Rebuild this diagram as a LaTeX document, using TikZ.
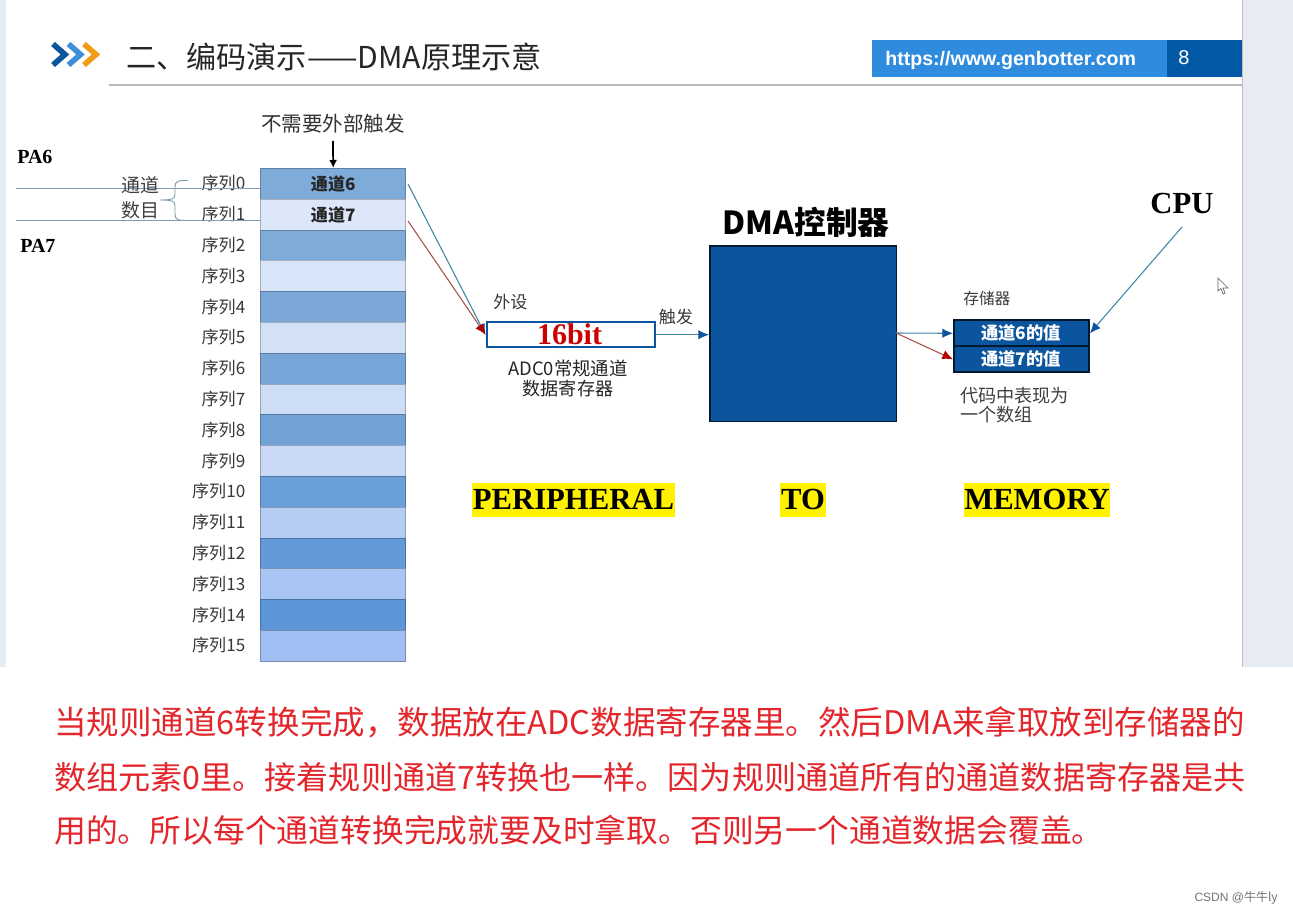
\documentclass[tikz,border=0pt]{standalone}
\usepackage{fontspec}
\setmainfont{Liberation Serif}
\newfontfamily\cjk{Noto Sans CJK SC}
\newfontfamily\lib{Liberation Sans}
\usetikzlibrary{arrows.meta}
\definecolor{navy}{HTML}{0B559F}
\definecolor{barl}{HTML}{2F8BDD}
\definecolor{bard}{HTML}{0459A6}
\definecolor{strip}{HTML}{E6ECF2}
\definecolor{redtxt}{HTML}{E3262B}
\definecolor{wire}{HTML}{7E9EAD}
\definecolor{linkb}{HTML}{3F86A8}
\definecolor{linkr}{HTML}{A8514C}
\tikzset{
  lab/.style={font=\cjk\fontsize{12.8}{14}\selectfont, text=black!78, inner sep=0pt},
  blab/.style={font=\cjk\bfseries\fontsize{12.8}{14}\selectfont, text=black!85, inner sep=0pt},
  word/.style={font=\bfseries\fontsize{23}{25}\selectfont, text=black, fill=yellow, inner sep=0.5pt, minimum height=25.5pt},
  note/.style={text=redtxt, inner sep=0pt, anchor=west},
  cell/.style={draw=#1!75!black, line width=0.8pt, minimum width=109pt, minimum height=23.1pt, inner sep=0pt, anchor=north west},
  blu/.style={line width=0.8pt, draw=linkb, -{Latex[length=8pt,width=7pt,color=navy]}},
  rd/.style={line width=0.8pt, draw=linkr, -{Latex[length=8pt,width=7pt,color=red!70!black]}},
  pin/.style={line width=0.8pt, draw=wire},
  mem/.style={draw=black!70!navy,line width=1.2pt,fill=navy,minimum width=101.5pt,minimum height=19.5pt,inner sep=0pt,anchor=north west}
}
\begin{document}
\begin{tikzpicture}[x=0.75pt,y=-0.75pt]
\useasboundingbox (0,0) rectangle (1293,916);
\fill[white] (0,0) rectangle (1293,916);
\fill[strip] (0,0) rectangle (6,667);
\fill[strip] (1242,0) rectangle (1293,667);
\draw[black!25,line width=0.7pt] (1242,0) -- (1242,667);
% header
\foreach \xx/\cc in {53/0B559F,68.5/3F8FD8,84/F39C1A}{
  \definecolor{cc}{HTML}{\cc}
  \draw[cc,line width=4.2pt] (\xx,44) -- (\xx+12,54.5) -- (\xx,65);
}
\node[anchor=west,inner sep=0pt,font=\cjk\fontsize{22.6}{25}\selectfont,text=black!85] (title) at (126,57) {二、编码演示——DMA原理示意};
\draw[black!28,line width=1pt] (109,85) -- (1242,85);
\fill[barl] (872,40) rectangle (1167,77);
\fill[bard] (1167,40) rectangle (1242,77);
\node[anchor=west,inner sep=0pt,font=\lib\bfseries\fontsize{14.7}{16}\selectfont,text=white] (url) at (885,60) {https://www.genbotter.com};
\node[anchor=center,inner sep=0pt,font=\lib\fontsize{15}{16}\selectfont,text=white] (pg) at (1184,58) {8};
% rows
\foreach \i/\c in {0/7FABD9,1/DCE7F9,2/7FABD9,3/D9E5F8,4/7CA8D8,5/D3E1F7,6/78A5D8,7/CEDDF6,8/72A1D6,9/C8D8F5,10/6A9FDA,11/B5CDF5,12/6399D8,13/A8C5F4,14/5C96D8,15/A0BEF2}{
  \definecolor{cellc}{HTML}{\c}
  \node[cell=cellc,fill=cellc] (r\i) at (260,168+\i*30.8) {};
  \node[lab,anchor=east] (s\i) at (245.5,183.4+\i*30.8) {序列\i};
}
\node[blab] (c6) at (r0.center) {通道6};
\node[blab] (c7) at (r1.center) {通道7};
\node[font=\cjk\fontsize{15.4}{17}\selectfont,text=black!80,inner sep=0pt] (need) at (333,124) {不需要外部触发};
\coordinate (needtip) at (333,141);
\draw[black,line width=1.3pt,-{Latex[length=6pt,width=6pt]}] (needtip) -- (r0.north);
% pins
\node[font=\bfseries\fontsize{15}{17}\selectfont,inner sep=0pt,anchor=west] (pa6) at (17,157) {PA6};
\node[font=\bfseries\fontsize{15}{17}\selectfont,inner sep=0pt,anchor=west] (pa7) at (20,246) {PA7};
\coordinate (w6) at (16,188.6);
\coordinate (w7) at (16,220.5);
\draw[pin] (w6) -- (w6-|r0.west);
\draw[pin] (w7) -- (w7-|r1.west);
\node[font=\cjk\fontsize{14.2}{16}\selectfont,text=black!75,inner sep=0pt] (t1) at (140.5,185) {通道};
\node[font=\cjk\fontsize{14.2}{16}\selectfont,text=black!75,inner sep=0pt] (t2) at (140.5,210) {数目};
\draw[wire,line width=0.7pt] (188,180.5) .. controls (178,180.5) and (175,181) .. (175,187) -- (175,194) .. controls (175,199) and (172,200) .. (160,200) .. controls (172,200) and (175,201) .. (175,206) -- (175,214) .. controls (175,220) and (178,220.5) .. (188,220.5);
% peripheral
\node[draw=navy,line width=1.6pt,fill=white,minimum width=126pt,minimum height=19pt,inner sep=0pt,anchor=north west] (adc) at (485.5,321) {};
\node[font=\bfseries\fontsize{22.5}{24}\selectfont,text=red!80!black,inner sep=0pt] (bit) at (569.5,334) {16bit};
\node[lab,anchor=west] (ws) at (493,302) {外设};
\node[lab] (tr) at (676,317) {触发};
\node[font=\cjk\fontsize{13.8}{16}\selectfont,text=black!85,inner sep=0pt] (a1) at (568,368) {ADC0常规通道};
\node[font=\cjk\fontsize{13.6}{16}\selectfont,text=black!85,inner sep=0pt] (a2) at (568,389) {数据寄存器};
\coordinate (o6) at (408,184);
\coordinate (o7) at (408,221);
\draw[blu] (o6) -- (adc.west);
\draw[rd] (o7) -- (adc.west);
% DMA
\node[draw=black!70!navy,line width=1.2pt,fill=navy,minimum width=140pt,minimum height=131.5pt,inner sep=0pt,anchor=north west] (dma) at (709,245.5) {};
\node[font=\cjk\bfseries\fontsize{23.8}{26}\selectfont,text=black,inner sep=0pt] (dmat) at (806,222) {DMA控制器};
\draw[blu] (adc.east) -- (dma.west |- adc.east);
% memory
\node[font=\cjk\fontsize{11.8}{14}\selectfont,text=black!78,inner sep=0pt,anchor=west] (cun) at (963,299) {存储器};
\node[mem] (m6) at (953,319.5) {};
\node[mem] (m7) at (953,345.5) {};
\node[font=\cjk\bfseries\fontsize{13}{15}\selectfont,text=white,inner sep=0pt] (m6t) at (1021,333) {通道6的值};
\node[font=\cjk\bfseries\fontsize{13}{15}\selectfont,text=white,inner sep=0pt] (m7t) at (1021,359) {通道7的值};
\coordinate (dout) at (896,333);
\draw[blu] (dout) -- (m6.west);
\draw[rd] (dout) -- (m7.west);
\node[font=\cjk\fontsize{13.6}{16}\selectfont,text=black!75,inner sep=0pt,anchor=west] (d1) at (960,396) {代码中表现为};
\node[font=\cjk\fontsize{13.6}{16}\selectfont,text=black!75,inner sep=0pt,anchor=west] (d2) at (960,415) {一个数组};
\node[font=\bfseries\fontsize{23}{25}\selectfont,inner sep=0pt] (cpu) at (1182,203) {CPU};
\coordinate (cpul) at (1182,227);
\draw[blu] (cpul) -- (m6.east);
% words
\node[word] (w1) at (573.5,499.5) {PERIPHERAL};
\node[word] (w2) at (803,499.5) {TO};
\node[word] (w3) at (1037,499.5) {MEMORY};
% note
\node[note,font=\cjk\fontsize{24.4}{26}\selectfont] (n1) at (54,722) {当规则通道6转换完成，数据放在ADC数据寄存器里。然后DMA来拿取放到存储器的};
\node[note,font=\cjk\fontsize{24.08}{26}\selectfont] (n2) at (54,777) {数组元素0里。接着规则通道7转换也一样。因为规则通道所有的通道数据寄存器是共};
\node[note,font=\cjk\fontsize{23.85}{26}\selectfont] (n3) at (54,830) {用的。所以每个通道转换完成就要及时拿取。否则另一个通道数据会覆盖。};
\node[font=\lib\fontsize{9}{10}\selectfont,text=black!55,inner sep=0pt,anchor=east] (wm) at (1278,898) {CSDN @\cjk 牛牛ly};
% cursor
\draw[black!60,fill=white,line width=0.5pt] (1218,278) -- (1218,291) -- (1221,288.5) -- (1223,294) -- (1225,293) -- (1223,288) -- (1228,288) -- cycle;
\end{tikzpicture}
\end{document}
